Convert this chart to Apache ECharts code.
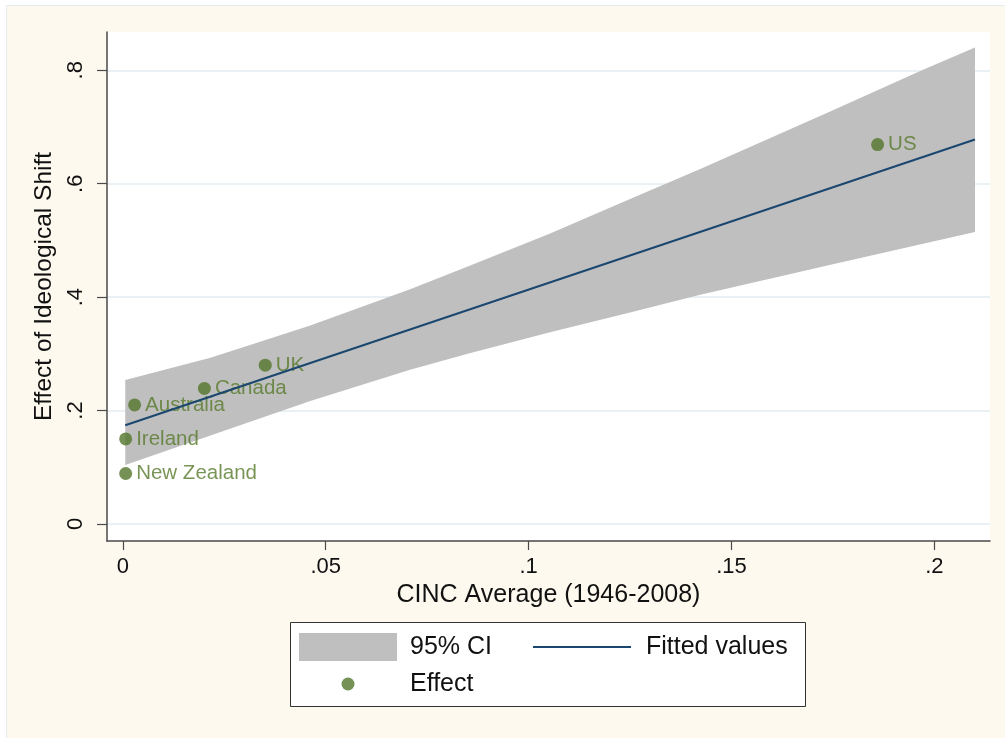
<!DOCTYPE html>
<html>
<head>
<meta charset="utf-8">
<script src="https://cdn.jsdelivr.net/npm/echarts@6/dist/echarts.min.js"></script>
<style>
html,body{margin:0;padding:0;background:#ffffff;}
#chart{width:1005px;height:738px;}
</style>
</head>
<body>
<div id="chart"></div>
<script>
// ---- data ----
var countries = ['US', 'UK', 'Canada', 'Australia', 'Ireland', 'New Zealand'];
var cinc      = [0.1860, 0.0351, 0.0201, 0.0029, 0.0007, 0.0007];
var effect    = [0.669, 0.280, 0.239, 0.210, 0.150, 0.089];

var ciX    = [0.0006, 0.0216, 0.0462, 0.0708, 0.0850, 0.1053, 0.1250, 0.1423, 0.1739, 0.1972, 0.2100];
var ciLow  = [0.104, 0.156, 0.217, 0.272, 0.300, 0.338, 0.373, 0.404, 0.456, 0.494, 0.515];
var ciHigh = [0.254, 0.293, 0.350, 0.414, 0.454, 0.512, 0.573, 0.626, 0.726, 0.801, 0.840];

var fitX = [0.0006, 0.2100];
var fitY = [0.174, 0.678];

var xTickVals   = [0, 0.05, 0.1, 0.15, 0.2];
var xTickLabels = ['0', '.05', '.1', '.15', '.2'];
var yTickVals   = [0, 0.2, 0.4, 0.6, 0.8];
var yTickLabels = ['0', '.2', '.4', '.6', '.8'];

var xTitle = 'CINC Average (1946-2008)';
var yTitle = 'Effect of Ideological Shift';
var legendNames = ['95% CI', 'Fitted values', 'Effect'];

// ---- styles ----
var FONT = '"Liberation Sans", Arial, Helvetica, sans-serif';
var GREEN = '#52752a';
var NAVY = '#1a476f';
var GRAY = '#bfbfbf';
var AXIS = '#4a4a4a';

// legend icons: invisible corner moves fix the icon box to 98x28
var ICON_LINE = 'path://M0,0M98,28M0,13L98,13L98,15L0,15Z';
var ICON_DOT  = 'path://M0,0M98,28M42.5,14A6.5,6.5,0,1,1,55.5,14A6.5,6.5,0,1,1,42.5,14Z';

function lookup(vals, labels, v) {
  for (var i = 0; i < vals.length; i++) if (Math.abs(vals[i] - v) < 1e-9) return labels[i];
  return '';
}

var chart = echarts.init(document.getElementById('chart'), null, {renderer: 'canvas'});

var legendText = {fontSize: 25, color: '#111', fontFamily: FONT};

var option = {
  backgroundColor: '#ffffff',
  animation: false,
  textStyle: {fontFamily: FONT},
  graphic: [
    {type: 'rect', z: -100, shape: {x: 6.5, y: 5.5, width: 1010, height: 745},
     style: {fill: '#fdf9ee', stroke: '#e4ecef', lineWidth: 1}},
    {type: 'rect', z: 3, shape: {x: 290.5, y: 622.5, width: 515, height: 84},
     style: {fill: '#ffffff', stroke: '#333333', lineWidth: 1}}
  ],
  grid: {left: 107, right: 15, top: 32, bottom: 197, show: true,
         backgroundColor: '#ffffff', borderWidth: 0, containLabel: false},
  xAxis: {
    type: 'value', min: -0.0039, max: 0.2137,
    name: xTitle, nameLocation: 'middle', nameGap: 42,
    nameTextStyle: {fontSize: 25, color: '#111', fontFamily: FONT},
    axisLine: {show: true, onZero: false, lineStyle: {color: AXIS, width: 1.5}},
    axisTick: {show: true, length: 9, customValues: xTickVals, lineStyle: {color: AXIS, width: 1.2}},
    axisLabel: {customValues: xTickVals, fontSize: 22, color: '#111', margin: 15, fontFamily: FONT,
                formatter: function (v) { return lookup(xTickVals, xTickLabels, v); }},
    splitLine: {show: false}
  },
  yAxis: {
    type: 'value', min: -0.030, max: 0.8675,
    name: yTitle, nameLocation: 'middle', nameGap: 42,
    nameTextStyle: {fontSize: 24.5, color: '#111', fontFamily: FONT},
    axisLine: {show: true, onZero: false, lineStyle: {color: AXIS, width: 1.5}},
    axisTick: {show: true, length: 10, customValues: yTickVals, lineStyle: {color: AXIS, width: 1.2}},
    axisLabel: {customValues: yTickVals, rotate: 90, fontSize: 22, color: '#111', margin: 20, fontFamily: FONT,
                formatter: function (v) { return lookup(yTickVals, yTickLabels, v); }},
    splitLine: {show: true, lineStyle: {color: '#e2ecf0', width: 1.5}}
  },
  legend: [
    {data: [{name: legendNames[0], icon: 'rect', itemStyle: {color: GRAY}}],
     left: 299, top: 633, padding: 0, itemWidth: 98, itemHeight: 28, selectedMode: false,
     textStyle: Object.assign({padding: [0, 0, 0, 8]}, legendText)},
    {data: [{name: legendNames[1], icon: ICON_LINE, itemStyle: {color: NAVY}}],
     left: 533, top: 633, padding: 0, itemWidth: 98, itemHeight: 28, selectedMode: false,
     textStyle: Object.assign({padding: [0, 0, 0, 10]}, legendText)},
    {data: [{name: legendNames[2], icon: ICON_DOT, itemStyle: {color: GREEN}}],
     left: 299, top: 670, padding: 0, itemWidth: 98, itemHeight: 28, selectedMode: false,
     textStyle: Object.assign({padding: [0, 0, 0, 8]}, legendText)}
  ],
  series: [
    {
      name: legendNames[0],
      type: 'custom',
      itemStyle: {color: GRAY},
      data: ciX.map(function (x, i) { return [x, ciLow[i], ciHigh[i]]; }),
      encode: {x: 0, y: [1, 2]},
      renderItem: function (params, api) {
        if (params.dataIndex !== 0) return null;
        var pts = [];
        for (var i = 0; i < ciX.length; i++) pts.push(api.coord([ciX[i], ciHigh[i]]));
        for (var j = ciX.length - 1; j >= 0; j--) pts.push(api.coord([ciX[j], ciLow[j]]));
        return {type: 'polygon', shape: {points: pts}, style: {fill: GRAY, stroke: null}};
      },
      silent: true
    },
    {
      name: legendNames[1],
      type: 'line',
      data: fitX.map(function (x, i) { return [x, fitY[i]]; }),
      showSymbol: false, symbol: 'none',
      itemStyle: {color: NAVY},
      lineStyle: {color: NAVY, width: 2},
      silent: true
    },
    {
      name: legendNames[2],
      type: 'scatter',
      symbolSize: 13,
      itemStyle: {color: GREEN},
      data: countries.map(function (c, i) { return {name: c, value: [cinc[i], effect[i]]}; }),
      label: {show: true, position: 'right', distance: 4, formatter: '{b}',
              fontSize: 20.5, color: '#577a2b', fontFamily: FONT},
      silent: true
    }
  ]
};
chart.setOption(option);
</script>
</body>
</html>
